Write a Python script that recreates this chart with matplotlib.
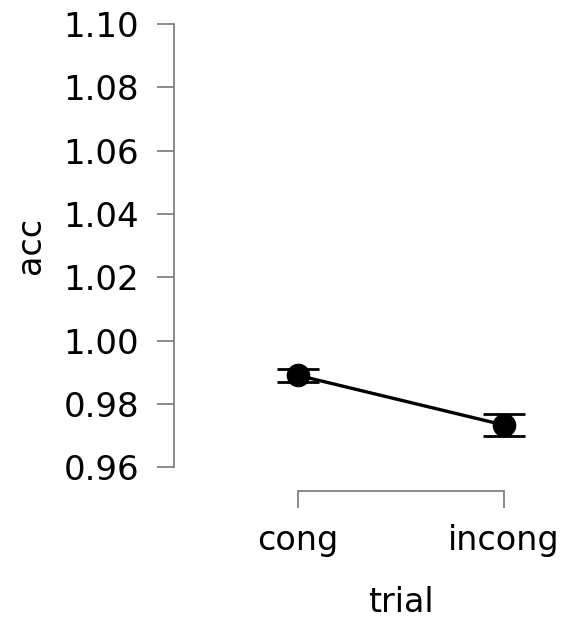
import matplotlib.pyplot as plt

trial = ['cong', 'incong']
acc_mean = [0.9890, 0.9733]
acc_err = [0.0020, 0.0034]
y_ticks = [0.96, 0.98, 1.00, 1.02, 1.04, 1.06, 1.08, 1.10]

fig = plt.figure(figsize=(5.65, 6.21), dpi=100)
ax = fig.add_axes([174 / 565, 1 - 491 / 621, (555 - 174) / 565, (491 - 24) / 621])

x = list(range(len(trial)))
ax.errorbar(x, acc_mean, yerr=acc_err, color='black', linewidth=2.4,
            marker='o', markersize=16, capsize=15, capthick=2, elinewidth=2)

ax.set_xlim(-0.602, 1.248)
ax.set_ylim(0.96 - 0.02 * 24 / 63.7, 1.10)
ax.set_xticks(x)
ax.set_xticklabels(trial)
ax.set_yticks(y_ticks)
ax.set_yticklabels(['%.2f' % v for v in y_ticks])

for side in ['top', 'right']:
    ax.spines[side].set_visible(False)
ax.spines['left'].set_bounds(0.96, 1.10)
ax.spines['bottom'].set_bounds(0, 1)
for side in ['left', 'bottom']:
    ax.spines[side].set_color('#777777')
    ax.spines[side].set_linewidth(1.2)

ax.tick_params(axis='both', length=12, width=1.2, color='#777777',
               labelsize=24.5, pad=13)
ax.tick_params(axis='x', labelsize=24, pad=12)

fig.text(30 / 565, 1 - 245 / 621, 'acc', rotation=90, ha='center', va='center', fontsize=24)
fig.text(401 / 565, 1 - 603 / 621, 'trial', ha='center', va='center', fontsize=24)

fig.savefig('out.png')
